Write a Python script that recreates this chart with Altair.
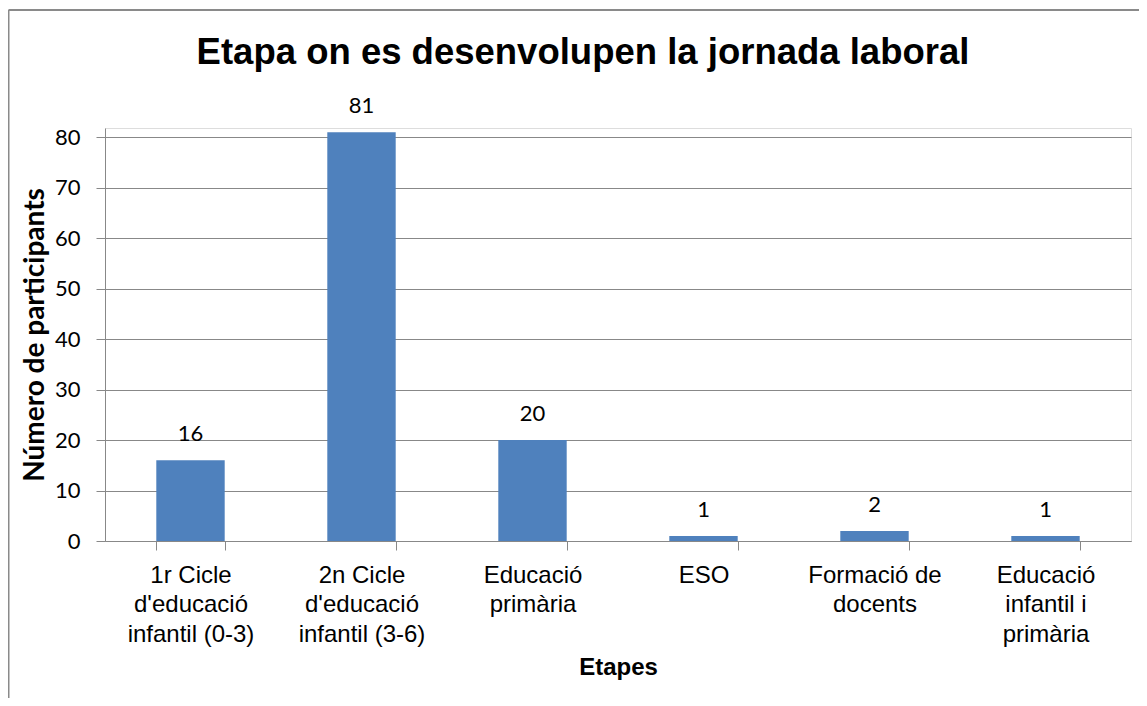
import altair as alt
import pandas as pd

categories = [
    "1r Cicle|d'educació|infantil (0-3)",
    "2n Cicle|d'educació|infantil (3-6)",
    "Educació|primària",
    "ESO",
    "Formació de|docents",
    "Educació|infantil i|primària",
]
values = [16, 81, 20, 1, 2, 1]
y_ticks = [0, 10, 20, 30, 40, 50, 60, 70, 80]

df = pd.DataFrame({"etapa": categories, "n": values})

GRID = "#888888"
BLUE = "#4F81BD"

x_enc = alt.X(
    "etapa:N",
    sort=None,
    scale=alt.Scale(paddingInner=0.6, paddingOuter=0.3),
    axis=alt.Axis(
        title="Etapes",
        labelAngle=0,
        labelExpr="split(datum.label, '|')",
        labelFont="Liberation Sans",
        labelFontSize=24,
        labelColor="#000000",
        labelLineHeight=29.5,
        labelPadding=13,
        labelBaseline="top",
        tickBand="extent",
        tickSize=9,
        tickColor=GRID,
        domainColor=GRID,
        grid=False,
        titleFont="Liberation Sans",
        titleFontSize=24,
        titleFontWeight="bold",
        titleColor="#000000",
        titlePadding=9,
    ),
)
y_enc = alt.Y(
    "n:Q",
    scale=alt.Scale(domain=[0, 81.85], nice=False, zero=True),
    axis=alt.Axis(
        title="Número de participants",
        values=y_ticks,
        labelFont="Lato",
        labelFontSize=22,
        labelColor="#000000",
        labelPadding=16,
        tickSize=9,
        tickColor=GRID,
        domainColor=GRID,
        gridColor=GRID,
        gridWidth=1,
        titleFont="Lato",
        titleFontSize=28,
        titleFontWeight="bold",
        titleColor="#000000",
        titlePadding=5,
    ),
)

bars = alt.Chart(df).mark_bar(color=BLUE).encode(x=x_enc, y=y_enc)
labels = alt.Chart(df).mark_text(
    baseline="alphabetic", dy=-19, font="Lato", fontSize=22, color="#000000"
).encode(x=alt.X("etapa:N", sort=None), y="n:Q", text="n:Q")

one = pd.DataFrame({"k": [0]})
border_left = alt.Chart(one).mark_rule(color="#8a8a8a", strokeWidth=2).encode(
    x=alt.value(-96.5), y=alt.value(-118), y2=alt.value(620)
)
border_top = alt.Chart(one).mark_rule(color="#8a8a8a", strokeWidth=2).encode(
    x=alt.value(-96.5), x2=alt.value(1100), y=alt.value(-118)
)

chart = (
    alt.layer(bars, labels, border_left, border_top)
    .properties(
        width=1026,
        height=413,
        title=alt.TitleParams(
            "Etapa on es desenvolupen la jornada laboral",
            font="Liberation Sans",
            fontSize=36.5,
            fontWeight="bold",
            color="#000000",
            anchor="middle",
            frame="group",
            baseline="alphabetic",
            offset=-91,
            dx=-35,
        ),
        autosize=alt.AutoSizeParams(type="none"),
        padding={"left": 97, "top": 120, "right": 8, "bottom": 157},
    )
    .configure_view(stroke=None)
    .configure(background="#ffffff")
)

chart.save("out.html", embed_options={"renderer": "svg", "actions": False})
